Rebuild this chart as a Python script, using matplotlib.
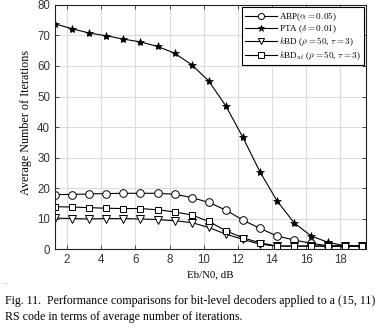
import matplotlib
matplotlib.use("Agg")
import matplotlib.pyplot as plt
import numpy as np

plt.rcParams['mathtext.fontset'] = 'cm'

ebn0 = [1.3, 2.3, 3.3, 4.3, 5.3, 6.3, 7.3, 8.3, 9.3, 10.3, 11.3, 12.3, 13.3, 14.3, 15.3, 16.3, 17.3, 18.3, 19.3]
abp = [17.9, 17.9, 18.1, 18.2, 18.3, 18.3, 18.3, 18.0, 16.9, 15.3, 12.8, 9.5, 6.8, 4.3, 3.0, 1.9, 1.1, 1.0, 1.0]
pta = [73.8, 72.2, 70.8, 69.9, 68.8, 67.9, 66.4, 64.2, 60.4, 55.1, 46.9, 36.6, 25.3, 15.8, 8.6, 4.3, 2.2, 1.1, 1.0]
kbd = [10.2, 10.0, 9.9, 10.0, 10.0, 9.9, 9.7, 9.3, 8.7, 7.1, 4.9, 3.2, 1.6, 1.0, 1.0, 1.0, 1.0, 1.0, 1.0]
kbd_ut = [13.9, 13.8, 13.6, 13.4, 13.3, 13.3, 12.9, 12.2, 11.2, 9.1, 6.0, 3.7, 2.1, 1.0, 1.0, 1.0, 1.0, 1.0, 1.0]

labels = [r'ABP($\alpha = 0.05$)', r'PTA ($\delta = 0.01$)',
          r'$k$BD ($\rho = 50$, $\tau = 3$)', r'$k$BD$_{ut}$ ($\rho = 50$, $\tau = 3$)']
xticks = [2, 4, 6, 8, 10, 12, 14, 16, 18]
yticks = [0, 10, 20, 30, 40, 50, 60, 70, 80]

fig = plt.figure(figsize=(3.88, 3.30), dpi=100)
ax = fig.add_axes([0.142, 0.245, 0.801, 0.74])

lw = 0.8
ax.plot(ebn0, abp, color='black', lw=lw, marker='o', ms=5.5, mfc='white', mec='black', mew=0.7, label=labels[0])
ax.plot(ebn0, pta, color='black', lw=lw, marker='*', ms=6, mfc='black', mec='black', mew=0.5, label=labels[1])
ax.plot(ebn0, kbd, color='black', lw=lw, marker='v', ms=5.5, mfc='white', mec='black', mew=0.7, label=labels[2])
ax.plot(ebn0, kbd_ut, color='black', lw=lw, marker='s', ms=5, mfc='white', mec='black', mew=0.7, label=labels[3])

ax.set_xlim(1.3, 19.5)
ax.set_ylim(0, 80)
ax.set_xticks(xticks)
ax.set_yticks(yticks)
ax.grid(True, color='#dcdcdc', lw=0.8)
ax.set_axisbelow(True)
ax.tick_params(direction='in', top=True, right=True, length=3, width=0.6,
               labelsize=8.3, labelcolor='#333333', colors='#333333')
for lab in ax.get_xticklabels() + ax.get_yticklabels():
    lab.set_family('Liberation Sans')
for sp in ax.spines.values():
    sp.set_color('#222222')
    sp.set_linewidth(0.8)

ax.set_xlabel('Eb/N0, dB', family='Liberation Serif', fontsize=7.8, labelpad=3)
ax.set_ylabel('Average Number of Iterations', family='Liberation Serif', fontsize=8.7, labelpad=1)
ax.yaxis.set_label_coords(-0.075, 0.52)

leg = ax.legend(loc='upper right', frameon=True, fancybox=False,
                edgecolor='black', framealpha=1, borderpad=0.35, labelspacing=0.08,
                handlelength=3.4, handletextpad=0.25, borderaxespad=0.2, markerscale=0.8,
                prop={'family': 'Liberation Serif', 'size': 6.6})
leg.get_frame().set_linewidth(0.8)

fig.text(0.013, 0.088, 'Fig. 11.  Performance comparisons for bit-level decoders applied to a (15, 11)',
         family='Liberation Serif', fontsize=8.6, ha='left', va='center')
fig.text(0.013, 0.038, 'RS code in terms of average number of iterations.',
         family='Liberation Serif', fontsize=8.6, ha='left', va='center')
fig.text(0.012, 0.145, '.', family='Liberation Serif', fontsize=6, ha='left', va='center', color='#555555')

fig.savefig('out.png', dpi=100)
